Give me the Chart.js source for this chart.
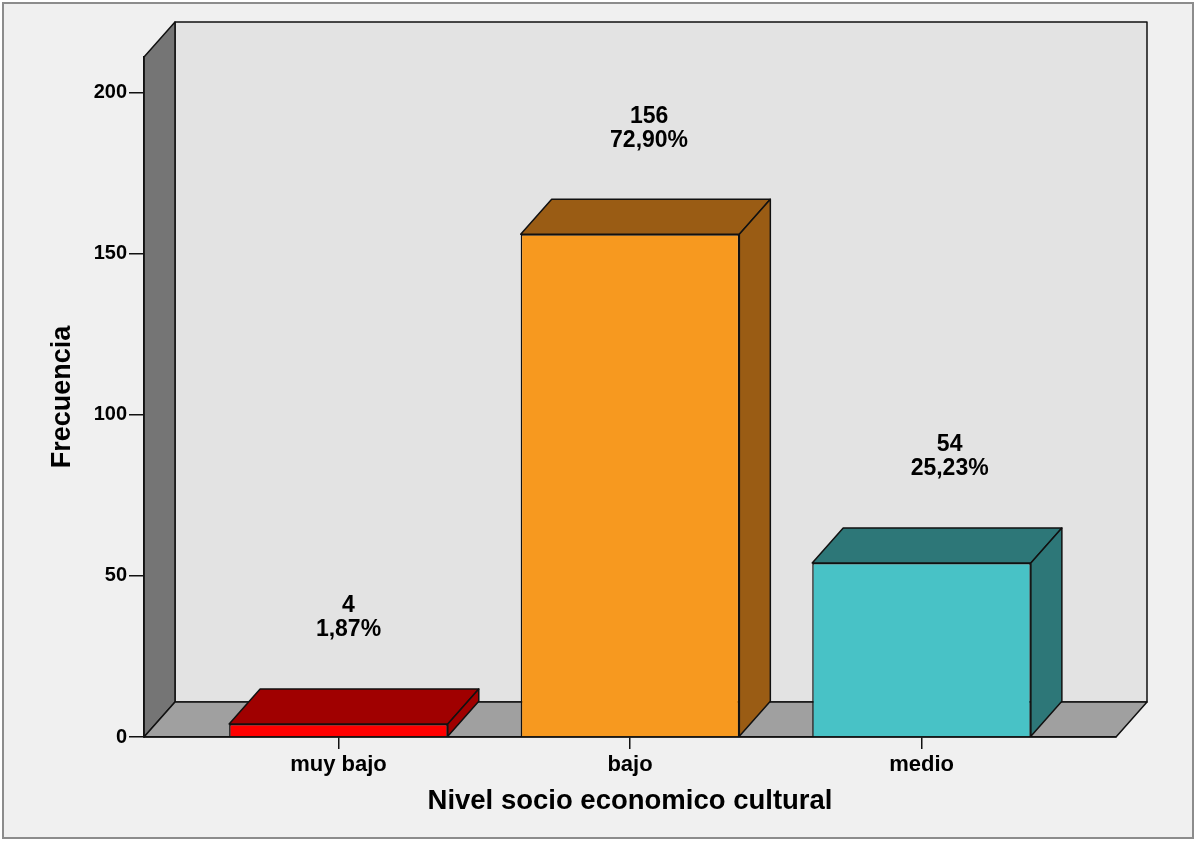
<!DOCTYPE html>
<html><head><meta charset="utf-8">
<script src="https://cdn.jsdelivr.net/npm/chart.js@4.4.1/dist/chart.umd.min.js"></script>
<style>html,body{margin:0;padding:0;background:#fff;}canvas{display:block;}</style>
</head><body>
<canvas id="c" width="1196" height="841"></canvas>
<script>
// ---- data ----
const categories = ['muy bajo', 'bajo', 'medio'];
const frecuencias = [4, 156, 54];
const porcentajes = [1.87, 72.90, 25.23];
const yTickValues = [0, 50, 100, 150, 200];
const yMax = 211;

// ---- styles ----
const frontColors = ['#ff0000', '#f7991f', '#48c2c6'];
const shadeColors = ['#a00000', '#9a5c14', '#2d7778'];
const DEPTH = { dx: 31, dy: -35 };
const FONT = '"Liberation Sans", Arial, sans-serif';
Chart.defaults.font.family = FONT;

const points = categories.map((c, i) => ({ x: i, y: frecuencias[i] }));
const fmtPct = v => v.toFixed(2).replace('.', ',') + '%';

function poly(ctx, pts, fill) {
  ctx.beginPath();
  pts.forEach((p, i) => i ? ctx.lineTo(p[0], p[1]) : ctx.moveTo(p[0], p[1]));
  ctx.closePath();
  ctx.fillStyle = fill; ctx.fill(); ctx.stroke();
}

const frame3d = {
  id: 'frame3d',
  beforeDraw(chart) {
    const { ctx, chartArea: a, width, height } = chart;
    const { dx, dy } = DEPTH;
    ctx.save();
    ctx.fillStyle = '#ffffff'; ctx.fillRect(0, 0, width, height);
    ctx.fillStyle = '#f0f0f0'; ctx.fillRect(3, 3, width - 6, height - 6);
    ctx.strokeStyle = '#8c8c8c'; ctx.lineWidth = 2; ctx.strokeRect(3, 3, width - 6, height - 6);
    ctx.lineWidth = 1.5; ctx.strokeStyle = '#111'; ctx.lineJoin = 'round';
    ctx.beginPath(); ctx.rect(a.left + dx, a.top + dy, a.right - a.left, a.bottom - a.top);
    ctx.fillStyle = '#e3e3e3'; ctx.fill(); ctx.stroke();
    poly(ctx, [[a.left, a.top], [a.left + dx, a.top + dy], [a.left + dx, a.bottom + dy], [a.left, a.bottom]], '#757575');
    poly(ctx, [[a.left, a.bottom], [a.left + dx, a.bottom + dy], [a.right + dx, a.bottom + dy], [a.right, a.bottom]], '#a0a0a0');
    ctx.restore();
  }
};

const bars3d = {
  id: 'bars3d',
  afterDatasetsDraw(chart) {
    const meta = chart.getDatasetMeta(0);
    const { ctx, chartArea: a } = chart;
    const { dx, dy } = DEPTH;
    ctx.save();
    ctx.lineWidth = 1.5; ctx.strokeStyle = '#111'; ctx.lineJoin = 'round';
    meta.data.forEach((bar, i) => {
      const { x, y, base, width } = bar.getProps(['x', 'y', 'base', 'width'], true);
      const l = x - width / 2, r = x + width / 2;
      poly(ctx, [[l, y], [l + dx, y + dy], [r + dx, y + dy], [r, y]], shadeColors[i]);
      poly(ctx, [[r, y], [r + dx, y + dy], [r + dx, base + dy], [r, base]], shadeColors[i]);
      const lx = x + 4 + 0.031 * (x - a.left);
      ctx.fillStyle = '#000';
      ctx.font = 'bold 23px ' + FONT;
      ctx.textAlign = 'center'; ctx.textBaseline = 'middle';
      ctx.fillText(String(frecuencias[i]), lx, y - 118);
      ctx.fillText(fmtPct(porcentajes[i]), lx, y - 94);
    });
    ctx.restore();
  }
};

new Chart(document.getElementById('c'), {
  type: 'bar',
  data: {
    datasets: [{
      data: points,
      backgroundColor: frontColors,
      borderColor: '#111',
      borderWidth: 1.5,
      categoryPercentage: 0.75,
      barPercentage: 1.0
    }]
  },
  options: {
    responsive: false,
    animation: false,
    devicePixelRatio: 1,
    layout: { padding: { left: 0, top: 57, right: 80, bottom: 0 } },
    plugins: { legend: { display: false }, tooltip: { enabled: false } },
    scales: {
      x: {
        type: 'linear', min: -0.667, max: 2.667, offset: false,
        afterBuildTicks: s => { s.ticks = categories.map((c, i) => ({ value: i })); },
        afterFit: s => { s.height = 104; },
        ticks: {
          callback: v => categories[v],
          font: { size: 22, weight: 'bold' }, color: '#000', padding: 3,
          maxRotation: 0, autoSkip: false
        },
        grid: { display: true, offset: false, drawOnChartArea: false, drawTicks: true, tickLength: 12, color: '#111', lineWidth: 1.5 },
        border: { display: true, color: '#111', width: 1.5 },
        title: {
          display: true, text: 'Nivel socio economico cultural', color: '#000',
          font: { size: 27.5, weight: 'bold' }, padding: { top: 0, bottom: 23 }
        }
      },
      y: {
        min: 0, max: yMax,
        afterBuildTicks: s => { s.ticks = yTickValues.map(v => ({ value: v })); },
        afterFit: s => { s.width = 144; },
        ticks: { font: { size: 20, weight: 'bold' }, color: '#000', padding: 2 },
        grid: { display: true, drawOnChartArea: false, drawTicks: true, tickLength: 15, color: '#111', lineWidth: 1.5 },
        border: { display: true, color: '#111', width: 1.5 },
        title: {
          display: true, text: 'Frecuencia', color: '#000',
          font: { size: 27, weight: 'bold' }, padding: { top: 46, bottom: 0 }
        }
      }
    }
  },
  plugins: [frame3d, bars3d]
});
</script>
</body></html>
